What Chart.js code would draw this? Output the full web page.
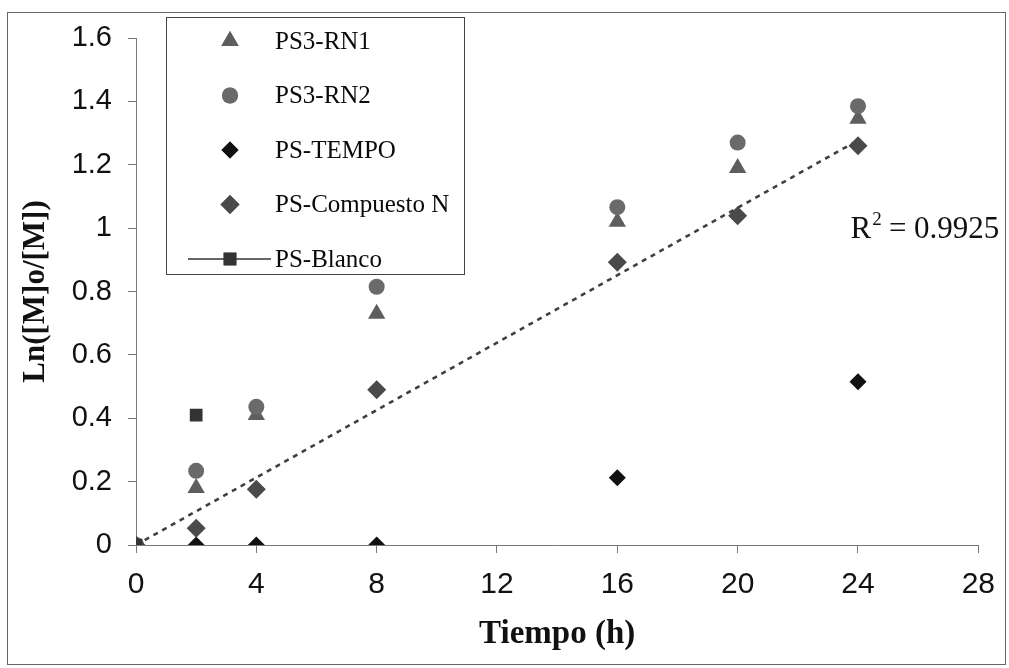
<!DOCTYPE html>
<html>
<head>
<meta charset="utf-8">
<script src="https://cdn.jsdelivr.net/npm/chart.js@4.4.0/dist/chart.umd.min.js"></script>
<style>
  html, body { margin: 0; padding: 0; background: #fff; }
  canvas { display: block; }
</style>
</head>
<body>
<canvas id="c" width="1009" height="668"></canvas>
<script>
// Reaction time (h) and Ln([M]o/[M]) for each polymerisation
const tiempo = [0, 2, 4, 8, 16, 20, 24];
const rn1 = [0, 0.18, 0.41, 0.73, 1.02, 1.19, 1.345];
const rn2 = [0, 0.234, 0.436, 0.815, 1.066, 1.27, 1.385];
const tempo = [0, 0, 0, 0, 0.212, null, 0.515];
const compuestoN = [0, 0.053, 0.176, 0.49, 0.892, 1.039, 1.26];
const blancoX = [0, 2];
const blancoY = [0, 0.41];
const xTicks = [0, 4, 8, 12, 16, 20, 24, 28];
const yTicks = [0, 0.2, 0.4, 0.6, 0.8, 1, 1.2, 1.4, 1.6];
const r2Label = '0.9925';

const pts = (xs, ys) => xs.map((x, i) => ({ x, y: ys[i] })).filter(p => p.y !== null);

// Linear trendline through the origin for PS-Compuesto N (least squares)
let sxy = 0, sxx = 0;
tiempo.forEach((t, i) => { sxy += t * compuestoN[i]; sxx += t * t; });
const slope = sxy / sxx;
const tMax = Math.max(...tiempo);
const trend = [{ x: 0, y: 0 }, { x: tMax, y: slope * tMax }];

const series = [
  { label: 'PS3-RN1', data: pts(tiempo, rn1), style: 'triangle', r: 10, color: '#5e5e5e' },
  { label: 'PS3-RN2', data: pts(tiempo, rn2), style: 'circle', r: 8, color: '#6a6a6a' },
  { label: 'PS-TEMPO', data: pts(tiempo, tempo), style: 'rectRot', r: 8.5, color: '#111111' },
  { label: 'PS-Compuesto N', data: pts(tiempo, compuestoN), style: 'rectRot', r: 9.5, color: '#4a4a4a' },
  { label: 'PS-Blanco', data: pts(blancoX, blancoY), style: 'rect', r: 9, color: '#333333', line: true }
];

const datasets = [{
  type: 'line',
  label: 'trend',
  data: trend,
  borderColor: '#404040',
  borderWidth: 2.6,
  borderDash: [5, 5],
  pointRadius: 0,
  fill: false,
  order: 10
}].concat(series.map((s, i) => ({
  label: s.label,
  data: s.data,
  showLine: false,
  pointStyle: s.style,
  pointRadius: s.r,
  pointHoverRadius: s.r,
  backgroundColor: s.color,
  borderColor: s.color,
  borderWidth: 0,
  order: 5 - i
})));

const serif = '"Liberation Serif", "Times New Roman", serif';
const sans = '"Liberation Sans", Arial, sans-serif';

// Legend box, R² annotation and outer frame
const extras = {
  id: 'extras',
  afterDraw(chart) {
    const ctx = chart.ctx;
    const xs = chart.scales.x, ys = chart.scales.y;
    ctx.save();

    // legend
    const bx = 166.5, by = 17.5, bw = 298, bh = 257;
    ctx.fillStyle = '#fff';
    ctx.fillRect(bx, by, bw, bh);
    ctx.strokeStyle = '#444';
    ctx.lineWidth = 1;
    ctx.strokeRect(bx, by, bw, bh);
    ctx.font = '25px ' + serif;
    ctx.textBaseline = 'middle';
    series.forEach((s, i) => {
      const cy = 41 + i * 54.5;
      const cx = 230;
      if (s.line) {
        ctx.strokeStyle = '#333';
        ctx.lineWidth = 1.6;
        ctx.beginPath();
        ctx.moveTo(188, cy);
        ctx.lineTo(271, cy);
        ctx.stroke();
      }
      ctx.fillStyle = s.color;
      ctx.strokeStyle = s.color;
      ctx.lineWidth = 0;
      Chart.helpers.drawPoint(ctx, { pointStyle: s.style, radius: s.r, borderWidth: 0 }, cx, cy);
      ctx.fill();
      ctx.fillStyle = '#0a0a0a';
      ctx.fillText(s.label, 275, cy + 1);
    });

    // R² of the trendline
    const rx = xs.getPixelForValue(23.75);
    const ry = ys.getPixelForValue(0.97);
    ctx.fillStyle = '#111';
    ctx.textBaseline = 'alphabetic';
    ctx.font = '31px ' + serif;
    ctx.fillText('R', rx, ry);
    const wR = ctx.measureText('R').width;
    ctx.font = '19px ' + serif;
    ctx.fillText('2', rx + wR + 1, ry - 13);
    ctx.font = '31px ' + serif;
    ctx.fillText(' = ' + r2Label, rx + wR + 10, ry);

    // outer frame
    ctx.strokeStyle = '#666';
    ctx.lineWidth = 1;
    ctx.strokeRect(7.5, 12.5, 998, 652);
    ctx.restore();
  }
};

new Chart(document.getElementById('c'), {
  type: 'scatter',
  data: { datasets },
  options: {
    responsive: false,
    animation: false,
    devicePixelRatio: 1,
    layout: { padding: { left: 0, right: 29, top: 38, bottom: 0 } },
    plugins: { legend: { display: false }, tooltip: { enabled: false } },
    scales: {
      x: {
        type: 'linear',
        min: 0, max: 28,
        afterBuildTicks: s => { s.ticks = xTicks.map(v => ({ value: v })); },
        afterFit: s => { s.height = 123; },
        ticks: {
          color: '#111',
          padding: 14,
          font: { family: sans, size: 30 }
        },
        grid: { display: true, drawOnChartArea: false, drawTicks: true, tickLength: 8, color: '#777', lineWidth: 1 },
        border: { display: true, color: '#777', width: 1 },
        title: {
          display: true,
          text: 'Tiempo (h)',
          color: '#111',
          padding: { top: 0, bottom: 14 },
          font: { family: serif, size: 33, weight: 'bold' }
        }
      },
      y: {
        type: 'linear',
        min: 0, max: 1.6,
        afterBuildTicks: s => { s.ticks = yTicks.map(v => ({ value: v })); },
        afterFit: s => { s.width = 136; },
        ticks: {
          color: '#111',
          padding: 16,
          callback: v => String(Number(v.toFixed(1))),
          font: { family: sans, size: 29 }
        },
        grid: { display: true, drawOnChartArea: false, drawTicks: true, tickLength: 8, color: '#777', lineWidth: 1 },
        border: { display: true, color: '#777', width: 1 },
        title: {
          display: true,
          text: 'Ln([M]o/[M])',
          color: '#111',
          padding: { top: 17, bottom: 0 },
          font: { family: serif, size: 31, weight: 'bold' }
        }
      }
    }
  },
  plugins: [extras]
});
</script>
</body>
</html>
